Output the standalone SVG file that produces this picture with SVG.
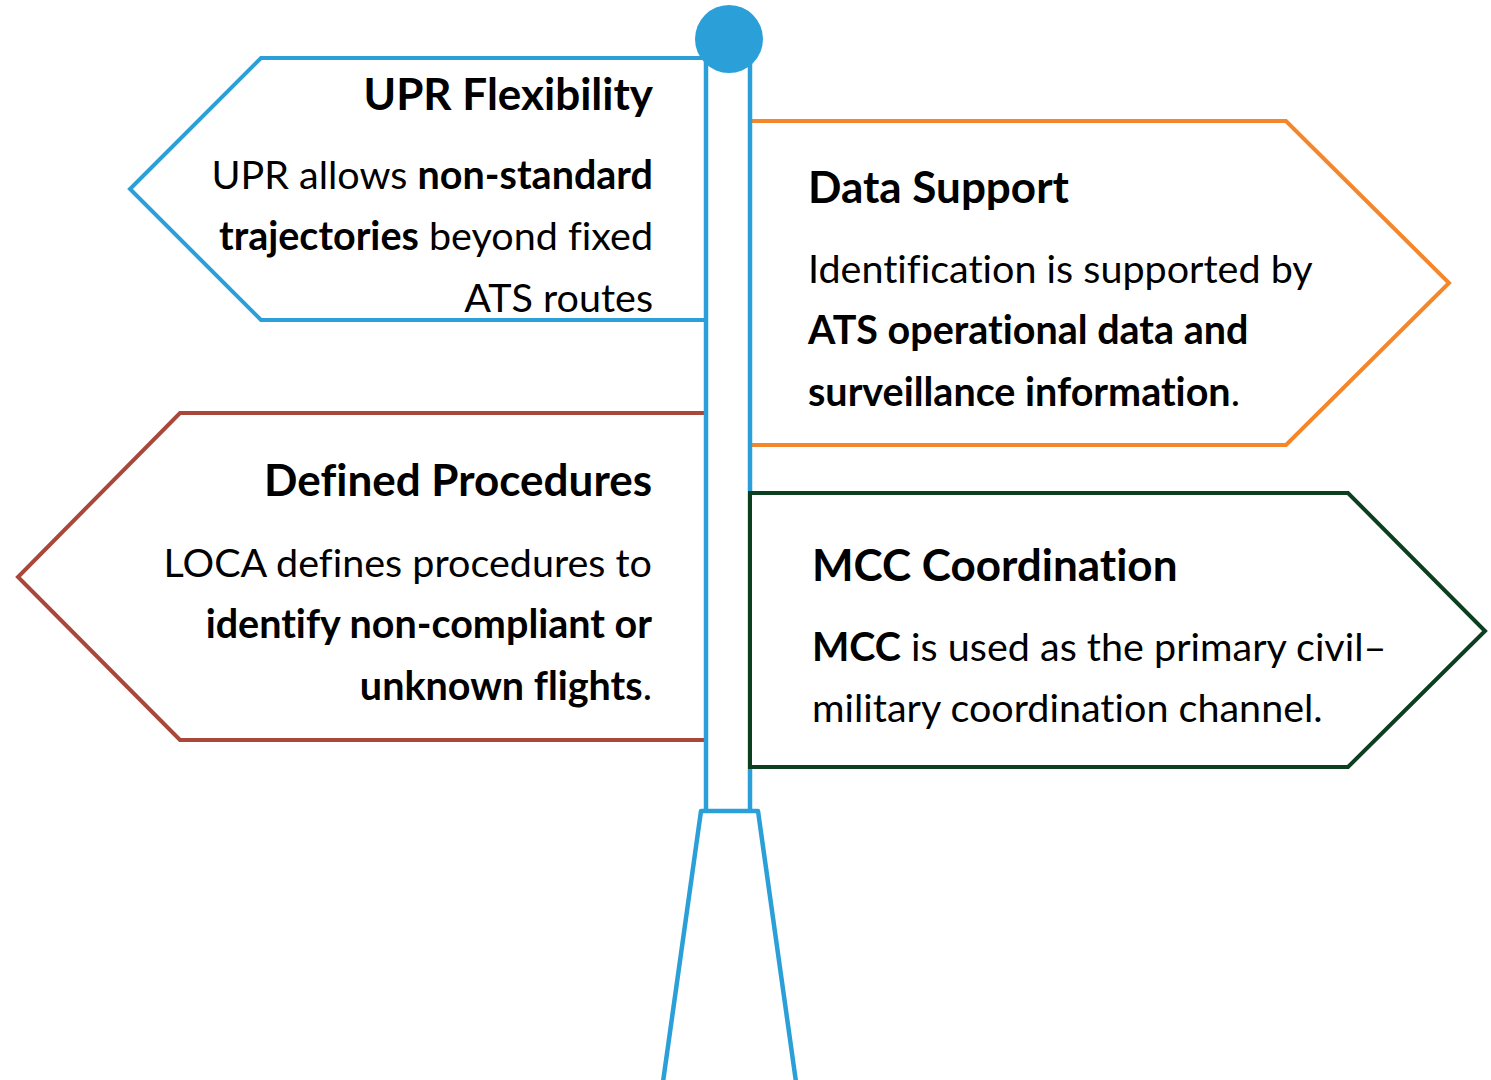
<svg xmlns="http://www.w3.org/2000/svg" width="1491" height="1080" viewBox="0 0 1491 1080">
  <style>
    .sign { fill: #ffffff; stroke-width: 4; stroke-linejoin: miter; }
    .pole { fill: none; stroke: #2B9FD8; stroke-width: 4.5; }
    text { font-variant-ligatures: none; }
    .title { font-family: Lato, "Liberation Sans", sans-serif; font-weight: 700; font-size: 44px; fill: #000000; }
    .body { font-family: Lato, "Liberation Sans", sans-serif; font-weight: 400; font-size: 39.5px; fill: #000000; }
    .b { font-weight: 700; }
    .end { text-anchor: end; }
  </style>
  <rect width="1491" height="1080" fill="#ffffff"/>

  <!-- signs drawn behind the post -->
  <g id="upr-flexibility">
    <polyline class="sign" stroke="#2B9FD8" points="706,58 261,58 130,189 261,320 706,320"/>
    <text class="title end" x="653" y="110">UPR Flexibility</text>
    <text class="body end" x="653" y="189">UPR allows <tspan class="b">non-standard</tspan></text>
    <text class="body end" x="653" y="250"><tspan class="b">trajectories</tspan> beyond fixed</text>
    <text class="body end" x="653" y="312">ATS routes</text>
  </g>

  <g id="data-support">
    <polyline class="sign" stroke="#F5862A" points="750,121 1286,121 1449,283 1286,445 750,445"/>
    <text class="title" x="808" y="203">Data Support</text>
    <text class="body" x="808" y="283">Identification is supported by</text>
    <text class="body b" x="808" y="344">ATS operational data and</text>
    <text class="body" x="808" y="406"><tspan class="b">surveillance information</tspan>.</text>
  </g>

  <g id="defined-procedures">
    <polyline class="sign" stroke="#A8473A" points="706,413 180,413 18,577 180,740 706,740"/>
    <text class="title end" x="652" y="496">Defined Procedures</text>
    <text class="body end" x="652" y="577">LOCA defines procedures to</text>
    <text class="body end" x="652" y="638"><tspan class="b">identify non-compliant or</tspan></text>
    <text class="body end" x="652" y="700"><tspan class="b">unknown flights</tspan>.</text>
  </g>

  <!-- post -->
  <g id="signpost">
    <line class="pole" x1="706" y1="56" x2="706" y2="811"/>
    <line class="pole" x1="750" y1="56" x2="750" y2="811"/>
    <polyline class="pole" stroke-linejoin="round" points="663,1082 701,811 758,811 796,1082"/>
    <circle cx="729" cy="39" r="34" fill="#2B9FD8"/>
  </g>

  <!-- sign drawn in front of the post -->
  <g id="mcc-coordination">
    <polygon class="sign" stroke="#0B3F1F" stroke-width="4.5" points="750,493 1348,493 1485,631 1348,767 750,767"/>
    <text class="title" x="812" y="581">MCC Coordination</text>
    <text class="body" x="812" y="661"><tspan class="b">MCC</tspan> is used as the primary civil–</text>
    <text class="body" x="812" y="722">military coordination channel.</text>
  </g>
</svg>
